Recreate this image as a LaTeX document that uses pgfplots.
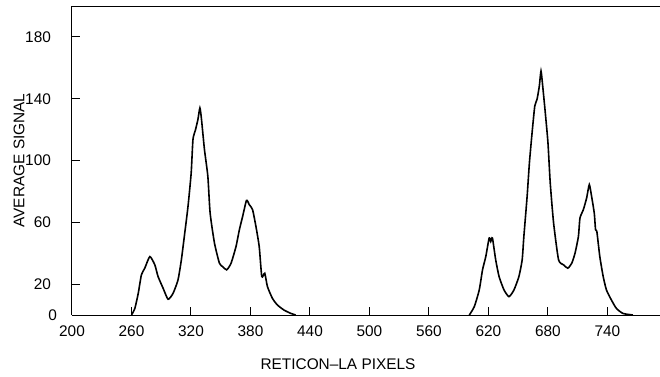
\documentclass[border=0pt]{standalone}
\usepackage{fontspec}
\setmainfont{Liberation Sans}
\usepackage{pgfplots}
\pgfplotsset{compat=1.18}

\begin{document}
\begin{tikzpicture}
\begin{axis}[
  name=ax,
  scale only axis,
  width=294pt, height=154.5pt,
  xmin=200, xmax=793, ymin=0, ymax=200,
  axis lines*=left,
  axis line style={line width=0.5pt},
  tick align=inside,
  major tick length=4pt,
  tick style={line width=0.5pt, black},
  xtick={200,260,...,740},
  ytick={20,60,...,180},
  extra y ticks={0},
  extra y tick style={major tick length=0pt, yticklabel style={xshift=3pt}},
  font=\fontsize{7.7}{9}\selectfont,
  /pgf/number format/assume math mode=true,
  yticklabel style={xshift=-7pt},
  xticklabel style={yshift=-2pt},
  xlabel={RETICON–LA PIXELS},
  ylabel={AVERAGE SIGNAL},
  xlabel style={at={(axis description cs:0.4524,0)}, anchor=center, yshift=-24.5pt},
  ylabel style={at={(axis description cs:-0.0901,0.5)}, anchor=center},
  clip=false,
]
\draw[line width=0.5pt] (rel axis cs:0,1) -- (rel axis cs:1,1);
\addplot[black, line width=0.8pt, smooth, tension=0.35] coordinates {
  (260,0) (263.4,4.3) (266.8,14) (270,26) (273.4,30.3) (278.5,37.8)
  (283.5,32.5) (286.8,24.9) (291.9,17.3) (296.9,10.2) (301.9,14)
  (306.9,22.7) (310.3,35.7) (313.7,53) (317,70.3) (320.2,92) (322,113.6)
  (324.6,120) (327,126.6) (329,134) (330.6,126.6) (333.6,107) (337,89.8)
  (339.3,66) (343.7,46.5) (348.7,33.5) (352,31.3) (356,29.2) (360.4,33.5)
  (365.4,44.3) (368.8,55.2) (372.1,63.8) (376,74.2) (378.8,71.4)
  (382.1,68.2) (385.5,57.3) (388.8,44.3) (391.4,24.9) (394.4,27)
  (397.1,18.4) (402.1,10.8) (407.1,6.5) (413.8,3.2) (420.5,1.1) (425.5,0)
};
\addplot[black, line width=0.8pt, smooth, tension=0.35] coordinates {
  (600.7,0) (605.7,5.4) (610.7,16.2) (614,29.2) (617.3,37.8) (620.7,49.8)
  (622.3,47.6) (624,49.8) (627.3,35.7) (630.7,24.9) (635.7,16.2)
  (640.7,11.9) (645.7,16.2) (650.7,24.9) (654,35.7) (655.7,50.8)
  (659,76.8) (661.3,98.5) (664,118) (666.7,135.2) (669,139.6)
  (671.3,148.2) (673,157.9) (674.7,148.2) (677.3,131) (680,111.5)
  (682.3,85.5) (685.7,59.5) (690.7,35.7) (695.7,32.5) (700,30.3)
  (704,33.5) (707.3,40) (710.7,50.8) (712.3,62.8) (715.7,68.2) (719,75.7)
  (721.7,84.4) (724,76.8) (726.7,66) (728,55.2) (729.3,54.1) (732.3,37.8)
  (735.7,24.9) (739,16.2) (744,9.7) (749,4.3) (755.7,1) (765.7,0)
};
\end{axis}
\pgfresetboundingbox
\path (ax.south west) ++(-36pt,-30.5pt) rectangle (ax.north east);
\path (ax.north east) ++(0,3pt);
\end{tikzpicture}
\end{document}
